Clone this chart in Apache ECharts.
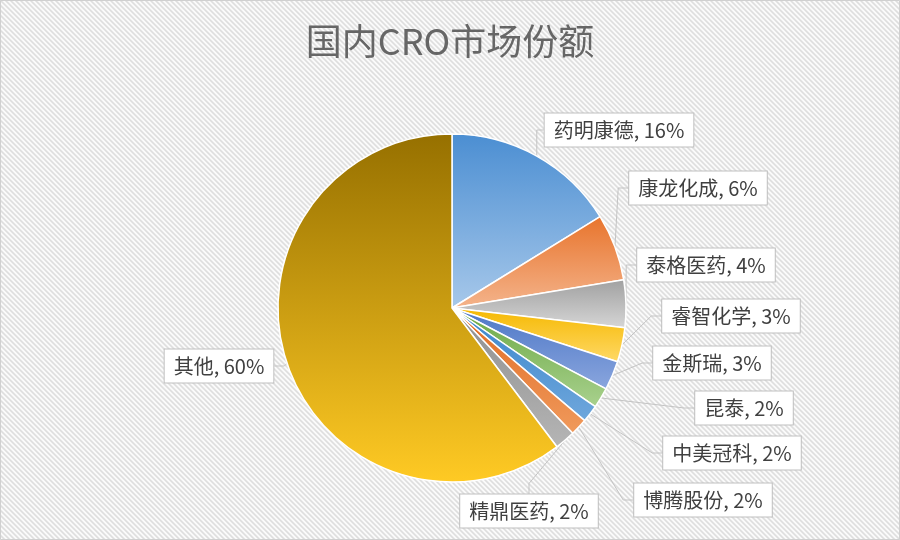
<!DOCTYPE html>
<html>
<head>
<meta charset="UTF-8">
<title>国内CRO市场份额</title>
<style>
  html, body { margin: 0; padding: 0; }
  #container { width: 900px; height: 540px; }
</style>
</head>
<body>
<div id="container"></div>
<script src="https://cdn.jsdelivr.net/npm/echarts@6/dist/echarts.min.js"></script>
<script>
// 数据
var names = ['药明康德', '康龙化成', '泰格医药', '睿智化学', '金斯瑞', '昆泰', '中美冠科', '博腾股份', '精鼎医药', '其他'];
var shares = [16.2, 6.2, 4.4, 3.2, 2.7, 1.9, 1.6, 1.6, 1.9, 60.3];

// 渐变色(上 -> 下)
var colorTop = ['#4b8ed2', '#e8742c', '#a0a0a0', '#f5b800', '#4c76c6', '#6aa843', '#3a85cc', '#e06a22', '#8e8e8e', '#967000'];
var colorBottom = ['#a7c8ea', '#f4b48c', '#d6d6d6', '#ffd966', '#8aa6de', '#a9d18e', '#6fa7dc', '#f09a5c', '#b5b5b5', '#ffca24'];

// 标签框中心位置(像素)
var labelPos = [[619, 130], [698, 188], [706, 265], [731, 316], [712, 363],
                [744, 408], [732, 453], [703, 500], [529, 511], [219, 366]];

// 斜纹背景
function stripes() {
    var n = 5, c = document.createElement('canvas');
    c.width = n; c.height = n;
    var ctx = c.getContext('2d');
    var img = ctx.createImageData(n, n);
    var shade = [222, 230, 248, 252, 234];
    for (var y = 0; y < n; y++) {
        for (var x = 0; x < n; x++) {
            var k = ((x - y) % n + n) % n;
            var v = shade[k], i = (y * n + x) * 4;
            img.data[i] = v; img.data[i + 1] = v; img.data[i + 2] = v; img.data[i + 3] = 255;
        }
    }
    ctx.putImageData(img, 0, 0);
    return c;
}

var myChart = echarts.init(document.getElementById('container'));

var pieData = names.map(function (name, i) {
    return {
        name: name,
        value: shares[i],
        itemStyle: {
            color: new echarts.graphic.LinearGradient(0, 0, 0, 1, [
                { offset: 0, color: colorTop[i] },
                { offset: 1, color: colorBottom[i] }
            ])
        }
    };
});

myChart.setOption({
    animation: false,
    backgroundColor: { image: stripes(), repeat: 'repeat' },
    textStyle: { fontFamily: '"Noto Sans CJK SC", "Noto Sans", sans-serif' },
    graphic: [{
        type: 'rect',
        shape: { x: 0.5, y: 0.5, width: 899, height: 539 },
        style: { fill: 'none', stroke: '#d0d0d0', lineWidth: 1 },
        silent: true
    }],
    title: {
        text: '国内CRO市场份额',
        left: 'center',
        top: 23,
        padding: 0,
        textStyle: {
            fontSize: 36,
            fontWeight: 'normal',
            color: '#666666',
            fontFamily: '"Noto Sans CJK SC", sans-serif'
        }
    },
    series: [{
        type: 'pie',
        center: [452, 308],
        radius: 174,
        startAngle: 90,
        clockwise: true,
        avoidLabelOverlap: false,
        data: pieData,
        itemStyle: { borderColor: '#ffffff', borderWidth: 1.5 },
        label: {
            show: true,
            position: 'outside',
            formatter: function (p) {
                return p.name + ', ' + Math.round(p.percent) + '%';
            },
            fontSize: 20,
            color: '#404040',
            backgroundColor: '#ffffff',
            borderColor: '#bfbfbf',
            borderWidth: 1,
            padding: [7, 9, 6, 9]
        },
        labelLine: {
            show: true,
            length: 15,
            length2: 10,
            lineStyle: { color: '#c4c4c4', width: 1 }
        },
        labelLayout: function (params) {
            var p = labelPos[params.dataIndex];
            return { x: p[0], y: p[1], align: 'center', verticalAlign: 'middle' };
        },
        emphasis: { disabled: true }
    }]
});
</script>
</body>
</html>
